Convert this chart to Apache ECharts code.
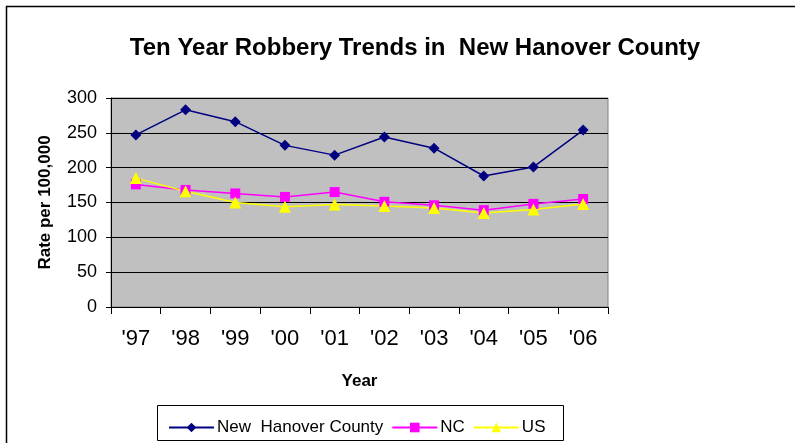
<!DOCTYPE html>
<html>
<head>
<meta charset="utf-8">
<script src="https://cdn.jsdelivr.net/npm/echarts@6/dist/echarts.min.js"></script>
<style>
  html, body { margin: 0; padding: 0; background: #fff; }
  #chart { width: 795px; height: 443px; }
</style>
</head>
<body>
<div id="chart"></div>
<script>
var years = ["'97", "'98", "'99", "'00", "'01", "'02", "'03", "'04", "'05", "'06"];
var newHanover = [247, 283, 266, 232, 218, 244, 228, 188, 201, 254];
var ncRate = [176, 168, 163, 158, 165, 151, 146, 139, 148, 155];
var usRate = [185, 166, 150, 144, 147, 145, 142, 135, 140, 148];
var yTicks = [0, 50, 100, 150, 200, 250, 300];

var chart = echarts.init(document.getElementById("chart"));
var font = "Liberation Sans, Arial, sans-serif";

chart.setOption({
  animation: false,
  backgroundColor: "#fff",
  title: {
    text: "Ten Year Robbery Trends in  New Hanover County",
    left: 410,
    top: 31,
    textAlign: "center",
    textStyle: { fontFamily: font, fontSize: 24, fontWeight: "bold", color: "#000" }
  },
  graphic: [
    {
      type: "rect",
      shape: { x: 6.5, y: 6.5, width: 800, height: 450 },
      style: { fill: null, stroke: "#000", lineWidth: 1.5 },
      z: 100
    },
    {
      type: "rect",
      shape: { x: 157.5, y: 405.5, width: 406, height: 35 },
      style: { fill: "#fff", stroke: "#000", lineWidth: 1 },
      z: 1
    }
  ],
  legend: {
    left: 163,
    top: 414,
    itemGap: 8,
    itemWidth: 45,
    itemHeight: 12,
    textStyle: { fontFamily: font, fontSize: 17, color: "#000", padding: [0, 0, 0, -2] },
    data: ["New  Hanover County", "NC", "US"],
    z: 5
  },
  grid: {
    left: 111,
    top: 98,
    width: 497,
    height: 209,
    show: true,
    backgroundColor: "#C0C0C0",
    borderColor: "#808080",
    borderWidth: 1
  },
  xAxis: {
    type: "category",
    data: years,
    boundaryGap: true,
    name: "Year",
    nameLocation: "middle",
    nameGap: 66,
    nameTextStyle: { fontFamily: font, fontSize: 17, fontWeight: "bold", color: "#000" },
    axisLine: { lineStyle: { color: "#000", width: 1 } },
    axisTick: { show: true, length: 7, inside: false, lineStyle: { color: "#000" } },
    axisLabel: { fontFamily: font, fontSize: 22, color: "#000", margin: 21 },
    splitLine: { show: false }
  },
  yAxis: {
    type: "value",
    min: 0,
    max: 300,
    interval: 50,
    name: "Rate per 100,000",
    nameLocation: "middle",
    nameGap: 57,
    nameTextStyle: { fontFamily: font, fontSize: 17, fontWeight: "bold", color: "#000" },
    axisLine: { show: true, lineStyle: { color: "#000", width: 1 } },
    axisTick: { show: true, length: 5, lineStyle: { color: "#000" } },
    axisLabel: {
      fontFamily: font, fontSize: 18, color: "#000", margin: 14,
      formatter: function (v) { return yTicks.indexOf(v) >= 0 ? String(v) : ""; }
    },
    splitLine: { show: true, lineStyle: { color: "#000", width: 1 } }
  },
  series: [
    {
      name: "New  Hanover County",
      type: "line",
      data: newHanover,
      symbol: "diamond",
      symbolSize: 11,
      color: "#000080",
      lineStyle: { color: "#000080", width: 1.5 },
      itemStyle: { color: "#000080" }
    },
    {
      name: "NC",
      type: "line",
      data: ncRate,
      symbol: "rect",
      symbolSize: 10,
      color: "#FF00FF",
      lineStyle: { color: "#FF00FF", width: 1.5 },
      itemStyle: { color: "#FF00FF" }
    },
    {
      name: "US",
      type: "line",
      data: usRate,
      symbol: "triangle",
      symbolSize: 12,
      color: "#FFFF00",
      lineStyle: { color: "#FFFF00", width: 1.5 },
      itemStyle: { color: "#FFFF00" }
    }
  ]
});
</script>
</body>
</html>
